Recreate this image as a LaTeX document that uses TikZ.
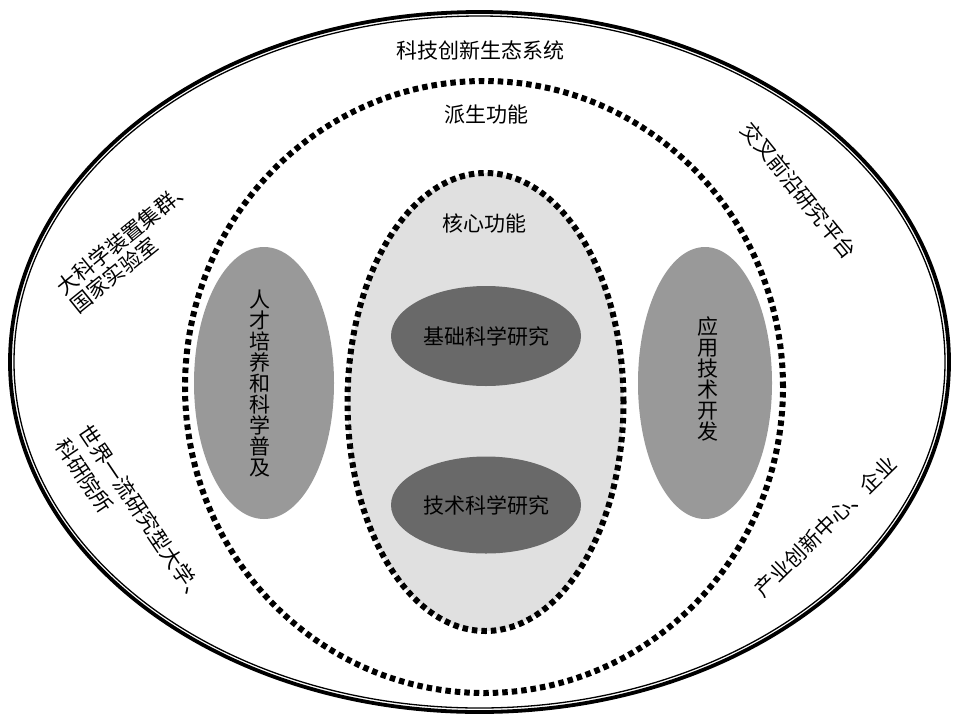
\documentclass[tikz,border=0pt]{standalone}
\usepackage{fontspec}
\setmainfont{Noto Sans CJK SC}
\usetikzlibrary{shapes.geometric}
\definecolor{corefill}{gray}{0.88}
\definecolor{sidefill}{gray}{0.60}
\definecolor{darkfill}{gray}{0.41}
\begin{document}
\begin{tikzpicture}[x=1pt,y=-1pt,
  lbl/.style={font=\fontsize{21}{21}\selectfont, inner sep=0pt},
  ring/.style={ellipse, inner sep=0pt},
  dashring/.style={ring, draw=black, line width=6pt, dash pattern=on 5.5pt off 4pt},
  blob/.style={ring, draw=none, font=\fontsize{21}{21}\selectfont, align=center}
]
\useasboundingbox (0,0) rectangle (953,716);
\fill[white] (0,0) rectangle (953,716);
% outer system ellipse (double line)
\node[ring, draw=black, line width=3.8pt, minimum width=939pt, minimum height=700pt] (outer) at (479.5,362) {};
\node[ring, draw=black, line width=1.3pt, minimum width=931pt, minimum height=692pt] (outerin) at (479.5,362) {};
% derived function ring
\node[dashring, minimum width=598pt, minimum height=612pt] (derived) at (484,387) {};
% core function ring
\node[dashring, fill=corefill, minimum width=276pt, minimum height=458pt] (core) at (485.5,402) {};
% inner blobs
\node[blob, fill=darkfill, minimum width=190pt, minimum height=100pt] (basic) at (486,336) {基础科学研究};
\node[blob, fill=darkfill, minimum width=190pt, minimum height=97pt] (techsci) at (486,505) {技术科学研究};
\node[blob, fill=sidefill, minimum width=140pt, minimum height=272pt] (talent) at (264,383) {};
\node[blob, fill=sidefill, minimum width=134pt, minimum height=272pt] (applied) at (705,383) {};
\node[lbl, align=center] (talenttxt) at (260,384) {人\\才\\培\\养\\和\\科\\学\\普\\及};
\node[lbl, align=center] (appliedtxt) at (708,379) {应\\用\\技\\术\\开\\发};
% titles
\node[lbl] (systitle) at (480,50) {科技创新生态系统};
\node[lbl] (dertitle) at (486,115) {派生功能};
\node[lbl] (coretitle) at (484,223) {核心功能};
% rotated labels
\node[lbl, rotate=39, anchor=west] (a1) at (59,290) {大科学装置集群、};
\node[lbl, rotate=39, anchor=west] (a2) at (73,308) {国家实验室};
\node[lbl, rotate=-56, anchor=west] (b1) at (84,427) {世界一流研究型大学、};
\node[lbl, rotate=-56, anchor=west] (b2) at (61,441) {科研院所};
\node[lbl, rotate=-51, anchor=west] (c1) at (746,125) {交叉前沿研究平台};
\node[lbl, rotate=44.5, anchor=west] (d1) at (758,593) {产业创新中心、企业};
\end{tikzpicture}
\end{document}
